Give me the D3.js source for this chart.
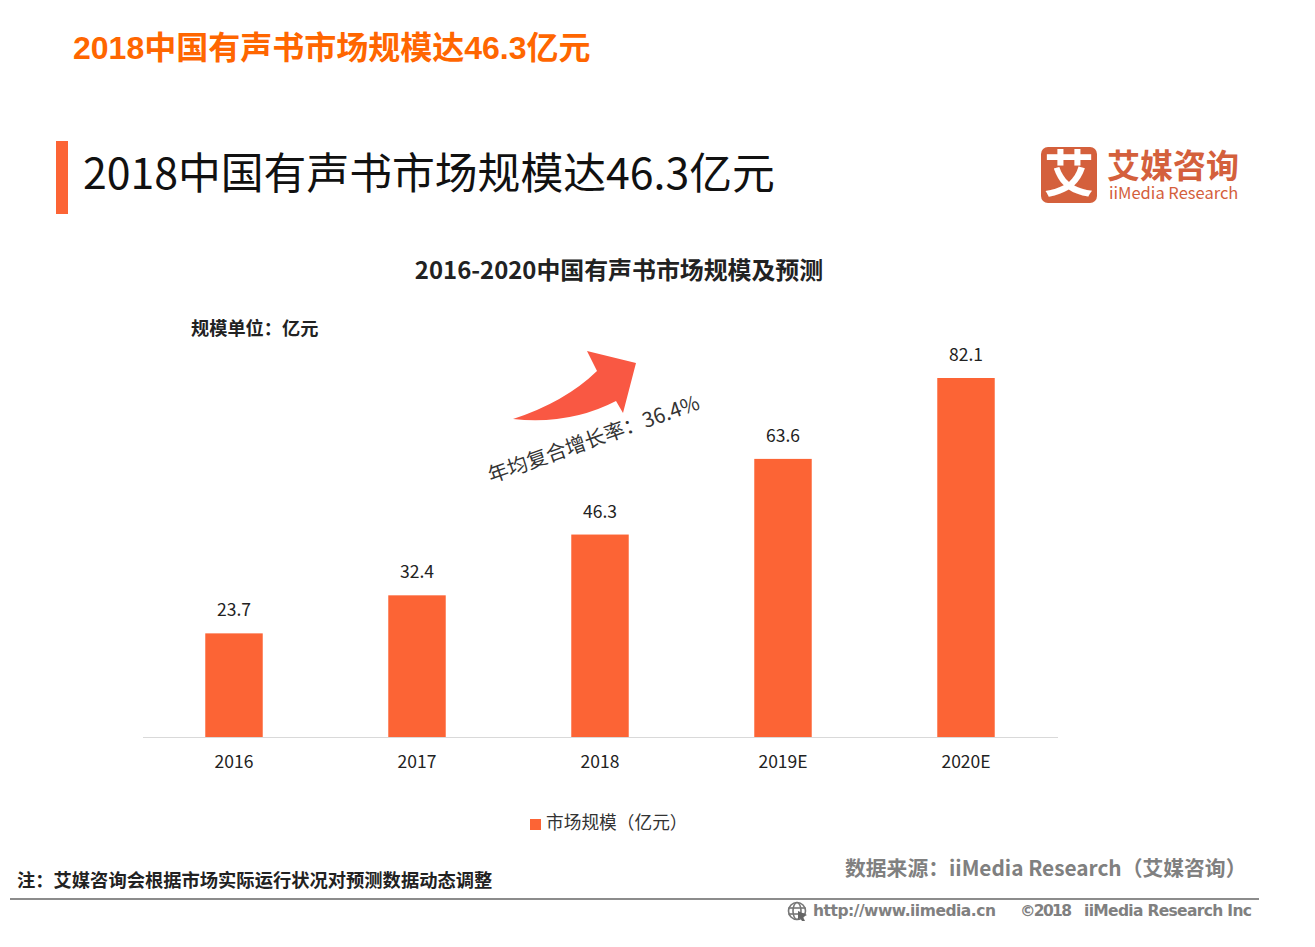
<!DOCTYPE html>
<html>
<head>
<meta charset="utf-8">
<script src="https://cdn.jsdelivr.net/npm/d3@7"></script>
<style>
  html, body { margin: 0; padding: 0; background: #fff; }
  text { font-family: "Noto Sans CJK SC", "Noto Sans", sans-serif; }
</style>
</head>
<body>
<div id="chart"></div>
<script>
// Chart data
var years = ["2016", "2017", "2018", "2019E", "2020E"];
var marketSize = [23.7, 32.4, 46.3, 63.6, 82.1];
var legendLabel = "市场规模（亿元）";

var barColor = "#fc6435";
var svgWidth = 1315;
var svgHeight = 947;

var svg = d3.select("#chart")
    .append("svg")
    .attr("width", svgWidth)
    .attr("height", svgHeight)
    .style("display", "block");

function addText(x, y, str, size, color, weight, anchor) {
    return svg.append("text")
        .attr("x", x)
        .attr("y", y)
        .attr("font-size", size)
        .attr("fill", color)
        .attr("font-weight", weight || 400)
        .attr("text-anchor", anchor || "start")
        .text(str);
}

// Page headings
addText(73, 59, "2018中国有声书市场规模达46.3亿元", 32, "#ff6600", 700)
    .style("font-family", "'Liberation Sans', 'Noto Sans CJK SC', sans-serif");
svg.append("rect").attr("x", 56).attr("y", 141).attr("width", 12).attr("height", 73).attr("fill", barColor);
addText(83, 189, "2018中国有声书市场规模达46.3亿元", 42.8, "#111", 400);

// Logo
svg.append("rect").attr("x", 1041).attr("y", 147).attr("width", 56).attr("height", 56).attr("rx", 7).attr("fill", "#d4603c");
addText(1069, 192, "艾", 50, "#fff", 700, "middle");
addText(1107, 178, "艾媒咨询", 33, "#d4603c", 700);
addText(1109, 199, "iiMedia Research", 16.5, "#d4603c", 400);

// Chart title and unit
addText(619, 279, "2016-2020中国有声书市场规模及预测", 23.9, "#222", 700, "middle");
addText(191, 335, "规模单位：亿元", 18.2, "#222", 700);

// Scales
var xScale = d3.scaleBand()
    .domain(years)
    .range([142.5, 1057.5])
    .paddingInner(0.686)
    .paddingOuter(0.343);

var yScale = d3.scaleLinear()
    .domain([0, 82.1])
    .range([737, 378]);

// Bars
svg.append("g")
    .selectAll("rect")
    .data(marketSize)
    .enter()
    .append("rect")
    .attr("x", (d, i) => xScale(years[i]))
    .attr("y", d => yScale(d))
    .attr("width", xScale.bandwidth())
    .attr("height", d => yScale(0) - yScale(d))
    .attr("fill", barColor);

// Value labels
svg.append("g")
    .selectAll("text")
    .data(marketSize)
    .enter()
    .append("text")
    .attr("x", (d, i) => xScale(years[i]) + xScale.bandwidth() / 2)
    .attr("y", d => yScale(d) - 17)
    .attr("text-anchor", "middle")
    .attr("font-size", 17.5)
    .attr("fill", "#222")
    .text(d => d.toFixed(1));

// X axis
var xAxis = svg.append("g")
    .attr("transform", "translate(0, 737)")
    .call(d3.axisBottom(xScale).tickSize(0).tickPadding(19));
xAxis.select(".domain").attr("stroke", "#d9d9d9").attr("stroke-width", 1);
xAxis.selectAll("text")
    .attr("font-size", 17.5)
    .attr("fill", "#222")
    .style("font-family", "'Noto Sans CJK SC', sans-serif");

// Growth arrow
svg.append("path")
    .attr("d", "M513,419 Q565,402 597,371 L587,351 L636,363 L623,413 L616,401 Q570,425 513,419 Z")
    .attr("fill", "#f95843");
svg.append("text")
    .attr("transform", "translate(491, 483) rotate(-19.5)")
    .attr("font-size", 20.5)
    .attr("fill", "#333")
    .text("年均复合增长率：36.4%");

// Legend
svg.append("rect").attr("x", 530).attr("y", 819).attr("width", 11).attr("height", 11).attr("fill", barColor);
addText(546, 829, legendLabel, 17.7, "#333");

// Footer
addText(17, 887, "注：艾媒咨询会根据市场实际运行状况对预测数据动态调整", 18.3, "#222", 700);
addText(845, 876, "数据来源：iiMedia Research（艾媒咨询）", 20.8, "#808080", 700);
svg.append("line").attr("x1", 10).attr("x2", 1259).attr("y1", 899).attr("y2", 899).attr("stroke", "#8c8c8c").attr("stroke-width", 2);

// Globe icon
var globe = svg.append("g").attr("fill", "none").attr("stroke", "#777").attr("stroke-width", 1.6);
globe.append("circle").attr("cx", 797).attr("cy", 911).attr("r", 8.5);
globe.append("ellipse").attr("cx", 797).attr("cy", 911).attr("rx", 4).attr("ry", 8.5);
globe.append("line").attr("x1", 788.5).attr("x2", 805.5).attr("y1", 908).attr("y2", 908);
globe.append("line").attr("x1", 788.5).attr("x2", 805.5).attr("y1", 914).attr("y2", 914);
svg.append("path").attr("d", "M798,911 L807,915 L803,917 L805,921 L802,921 L800,918 L798,920 Z").attr("fill", "#666");

addText(813, 916, "http://www.iimedia.cn", 15.5, "#808080", 700).style("font-family", "'DejaVu Sans', sans-serif").attr("textLength", 183);
addText(1020, 916, "©2018", 15.5, "#808080", 700).style("font-family", "'DejaVu Sans', sans-serif").attr("textLength", 52);
addText(1084, 916, "iiMedia Research  Inc", 15.5, "#808080", 700).style("font-family", "'DejaVu Sans', sans-serif").attr("textLength", 168);
</script>
</body>
</html>
